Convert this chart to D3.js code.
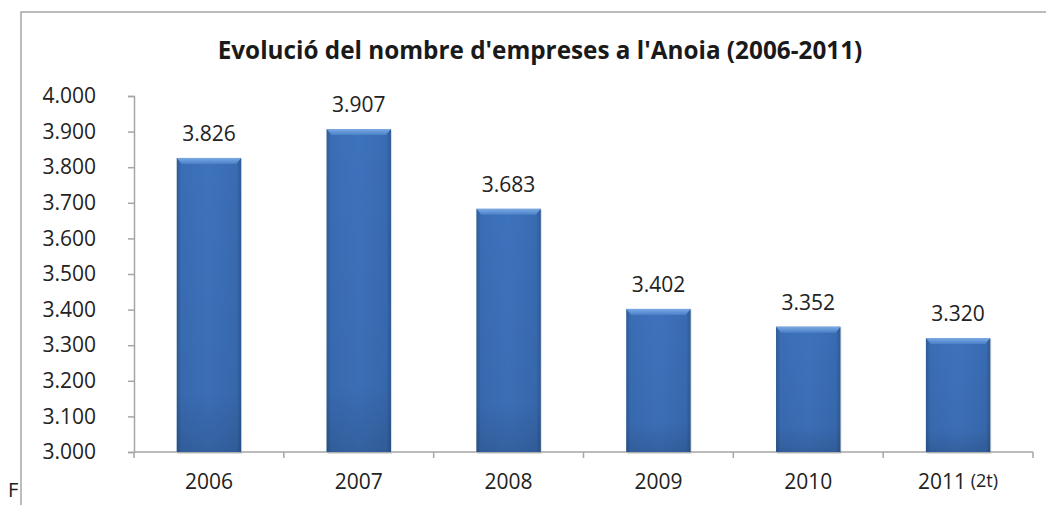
<!DOCTYPE html>
<html>
<head>
<meta charset="utf-8">
<script src="https://cdn.jsdelivr.net/npm/d3@7"></script>
<style>
  body { margin: 0; background: #fff; }
  svg { display: block; font-family: "Open Sans", sans-serif; }
</style>
</head>
<body>
<svg id="chart" width="1046" height="505"></svg>
<script>
const years = ['2006', '2007', '2008', '2009', '2010', '2011'];
const yearSuffix = ['', '', '', '', '', '(2t)'];
const empreses = [3826, 3907, 3683, 3402, 3352, 3320];
const yTicks = [3000, 3100, 3200, 3300, 3400, 3500, 3600, 3700, 3800, 3900, 4000];
const title = "Evolució del nombre d'empreses a l'Anoia (2006-2011)";

const W = 1046, H = 505;
const m = {left: 134, right: 13, top: 96, bottom: 53};
const fmt = v => d3.format(',.0f')(v).replace(',', '.');

const svg = d3.select('#chart');

// gradients for the bevelled bars
const defs = svg.append('defs');
const gh = defs.append('linearGradient').attr('id', 'barH').attr('x1', 0).attr('x2', 1).attr('y1', 0).attr('y2', 0);
gh.append('stop').attr('offset', '0%').attr('stop-color', '#2b5c96');
gh.append('stop').attr('offset', '7%').attr('stop-color', '#3a6db5');
gh.append('stop').attr('offset', '50%').attr('stop-color', '#3d72bc');
gh.append('stop').attr('offset', '93%').attr('stop-color', '#396bb2');
gh.append('stop').attr('offset', '100%').attr('stop-color', '#2c5a94');
const gv = defs.append('linearGradient').attr('id', 'barV').attr('x1', 0).attr('x2', 0).attr('y1', 0).attr('y2', 1);
gv.append('stop').attr('offset', '0%').attr('stop-color', '#000').attr('stop-opacity', 0);
gv.append('stop').attr('offset', '80%').attr('stop-color', '#000').attr('stop-opacity', 0.04);
gv.append('stop').attr('offset', '100%').attr('stop-color', '#000').attr('stop-opacity', 0.15);
const gt = defs.append('linearGradient').attr('id', 'bevel').attr('x1', 0).attr('x2', 0).attr('y1', 0).attr('y2', 1);
gt.append('stop').attr('offset', '0%').attr('stop-color', '#7aaae4');
gt.append('stop').attr('offset', '100%').attr('stop-color', '#4a80c8');

// outer frame (cut off at right and bottom)
svg.append('path')
  .attr('d', `M21,${H} V12 H${W}`)
  .attr('fill', 'none')
  .attr('stroke', '#a6a6a6')
  .attr('stroke-width', 1.5);

svg.append('text')
  .attr('x', 8).attr('y', 497)
  .attr('font-size', 20).attr('fill', '#222')
  .text('F');

svg.append('text')
  .attr('x', 540).attr('y', 59)
  .attr('text-anchor', 'middle')
  .attr('font-size', 24.3).attr('font-weight', 'bold').attr('fill', '#1a1a1a')
  .text(title);

const x = d3.scaleBand().domain(years).range([m.left, W - m.right]).paddingInner(0.57).paddingOuter(0.285);
const y = d3.scaleLinear().domain([3000, 4000]).range([H - m.bottom, m.top]);

// y axis
const yAxis = svg.append('g').attr('transform', `translate(${m.left},0)`)
  .call(d3.axisLeft(y).tickValues(yTicks).tickSize(6).tickPadding(32).tickFormat(fmt));
yAxis.select('.domain').attr('stroke', '#a6a6a6').attr('stroke-width', 1.5);
yAxis.selectAll('.tick line').attr('stroke', '#a6a6a6').attr('stroke-width', 1.5);
yAxis.selectAll('.tick text').attr('font-size', 21).attr('fill', '#222')
  .attr('font-family', '"Open Sans", sans-serif');

// x axis: ticks sit between categories
const bounds = d3.range(years.length + 1).map(i => m.left + i * ((W - m.right - m.left) / years.length));
const xg = svg.append('g');
xg.append('line')
  .attr('x1', m.left).attr('x2', W - m.right)
  .attr('y1', y(3000)).attr('y2', y(3000))
  .attr('stroke', '#a6a6a6').attr('stroke-width', 1.5);
xg.selectAll('line.tk').data(bounds).join('line').attr('class', 'tk')
  .attr('x1', d => d).attr('x2', d => d)
  .attr('y1', y(3000)).attr('y2', y(3000) + 6)
  .attr('stroke', '#a6a6a6').attr('stroke-width', 1.5);
const xl = xg.selectAll('text').data(years).join('text')
  .attr('x', d => x(d) + x.bandwidth() / 2)
  .attr('y', y(3000) + 37)
  .attr('text-anchor', 'middle')
  .attr('font-size', 21).attr('fill', '#222');
xl.append('tspan').text(d => d);
xl.append('tspan')
  .attr('font-size', 18).attr('dy', -2)
  .text((d, i) => yearSuffix[i] ? ' ' + yearSuffix[i] : '');

// bars
const bars = svg.append('g');
const data = years.map((d, i) => ({year: d, v: empreses[i]}));
bars.selectAll('rect.shadow').data(data).join('rect').attr('class', 'shadow')
  .attr('x', d => x(d.year) + 1).attr('width', x.bandwidth())
  .attr('y', d => y(d.v) + 1).attr('height', d => y(3000) - y(d.v) + 1)
  .attr('fill', '#999').attr('opacity', 0.35);
bars.selectAll('rect.bar').data(data).join('rect').attr('class', 'bar')
  .attr('x', d => x(d.year)).attr('width', x.bandwidth())
  .attr('y', d => y(d.v)).attr('height', d => y(3000) - y(d.v))
  .attr('fill', 'url(#barH)');
bars.selectAll('rect.shade').data(data).join('rect').attr('class', 'shade')
  .attr('x', d => x(d.year)).attr('width', x.bandwidth())
  .attr('y', d => y(d.v)).attr('height', d => y(3000) - y(d.v))
  .attr('fill', 'url(#barV)');
// top bevel
bars.selectAll('path.bevel').data(data).join('path').attr('class', 'bevel')
  .attr('d', d => {
    const x0 = x(d.year), x1 = x0 + x.bandwidth(), t = y(d.v);
    return `M${x0},${t} H${x1} L${x1 - 5},${t + 6} H${x0 + 5} Z`;
  })
  .attr('fill', 'url(#bevel)');

// value labels
svg.append('g').selectAll('text').data(data).join('text')
  .attr('x', d => x(d.year) + x.bandwidth() / 2)
  .attr('y', d => y(d.v) - 17)
  .attr('text-anchor', 'middle')
  .attr('font-size', 21).attr('fill', '#222')
  .text(d => fmt(d.v));
</script>
</body>
</html>
